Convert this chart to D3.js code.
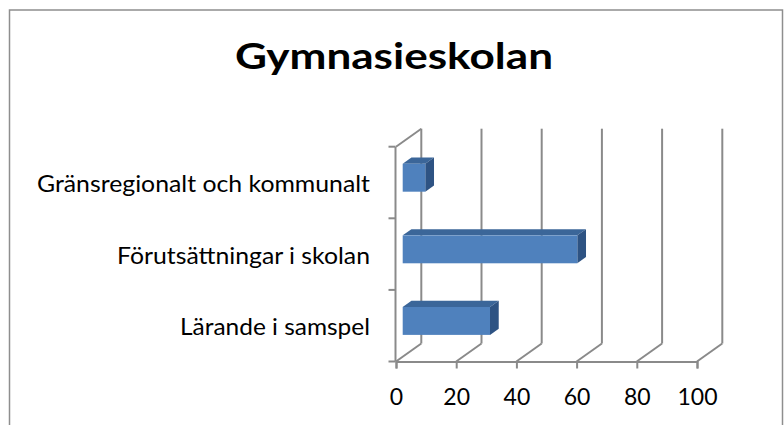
<!DOCTYPE html>
<html>
<head>
<meta charset="utf-8">
<script src="https://cdn.jsdelivr.net/npm/d3@7/dist/d3.min.js"></script>
<style>
  html, body { margin: 0; padding: 0; background: #ffffff; }
  svg { display: block; }
</style>
</head>
<body>
<div id="chart"></div>
<script>
// data
const title = 'Gymnasieskolan'
const categories = ['Gränsregionalt och kommunalt', 'Förutsättningar i skolan', 'Lärande i samspel']
const values = [7.5, 58, 29]
const xTicks = [0, 20, 40, 60, 80, 100]

const width = 784
const height = 425
const plot = { left: 396, right: 697, top: 146.7, bottom: 361.5 }
// 3d depth offset of the back wall
const depth = { dx: 25.3, dy: 18 }
const barDepth = [0.265, 0.61]
const gridColor = '#8a8a8a'
const face = { front: '#4f81bd', top: '#3b6699', side: '#2e5383' }
const font = 'Lato, "Open Sans", sans-serif'

const svg = d3.select('#chart').append('svg')
  .attr('width', width)
  .attr('height', height)

// chart frame
svg.append('rect')
  .attr('x', 9.5).attr('y', 10)
  .attr('width', 773).attr('height', 440)
  .attr('fill', 'none')
  .attr('stroke', '#8e8e8e')
  .attr('stroke-width', 1.5)

const x = d3.scaleLinear().domain([0, 100]).range([plot.left, plot.right])
const yCat = d3.scaleBand().domain(categories).range([plot.top, plot.bottom])
const yBar = d3.scaleBand().domain(categories).range([plot.top, plot.bottom])
  .paddingInner(0.61).paddingOuter(0.305)

const proj = (px, py, f) => [px + f * depth.dx, py - f * depth.dy]

// walls and floor grid
const gGrid = svg.append('g').attr('class', 'grid')
  .attr('stroke', gridColor).attr('stroke-width', 2).attr('fill', 'none')

gGrid.selectAll('.back')
  .data(xTicks)
  .join('line')
  .attr('class', 'back')
  .attr('x1', d => proj(x(d), plot.top, 1)[0])
  .attr('x2', d => proj(x(d), plot.bottom, 1)[0])
  .attr('y1', d => proj(x(d), plot.top, 1)[1])
  .attr('y2', d => proj(x(d), plot.bottom, 1)[1])

gGrid.selectAll('.floor')
  .data(xTicks)
  .join('line')
  .attr('class', 'floor')
  .attr('x1', d => x(d))
  .attr('y1', plot.bottom)
  .attr('x2', d => proj(x(d), plot.bottom, 1)[0])
  .attr('y2', d => proj(x(d), plot.bottom, 1)[1])

// left wall top edge
gGrid.append('line')
  .attr('x1', x(0)).attr('y1', plot.top)
  .attr('x2', proj(x(0), plot.top, 1)[0])
  .attr('y2', proj(x(0), plot.top, 1)[1])

// front axes
const xAxis = d3.axisBottom(x).tickValues(xTicks).tickSize(7).tickPadding(10)
const gX = svg.append('g').attr('transform', `translate(0,${plot.bottom})`).call(xAxis)
gX.select('.domain').attr('stroke', gridColor).attr('stroke-width', 2)
gX.selectAll('.tick line').attr('stroke', gridColor).attr('stroke-width', 2)
gX.selectAll('.tick text')
  .attr('font-family', font)
  .attr('font-size', 23)
  .attr('fill', '#000')
  .attr('dy', null)
  .attr('y', 43.5)

svg.append('line')
  .attr('x1', x(0) - 0.5).attr('x2', x(0) - 0.5)
  .attr('y1', plot.top).attr('y2', plot.bottom)
  .attr('stroke', gridColor).attr('stroke-width', 2)

svg.selectAll('.ytick')
  .data(d3.range(categories.length + 1))
  .join('line')
  .attr('class', 'ytick')
  .attr('x1', x(0) - 7.5).attr('x2', x(0) - 0.5)
  .attr('y1', i => plot.top + i * yCat.step())
  .attr('y2', i => plot.top + i * yCat.step())
  .attr('stroke', gridColor).attr('stroke-width', 2)

// category labels
const labelWidths = [333, 253, 190]
svg.selectAll('.cat')
  .data(categories)
  .join('text')
  .attr('class', 'cat')
  .attr('x', 370)
  .attr('y', d => yCat(d) + yCat.bandwidth() / 2 + 9.5)
  .attr('text-anchor', 'end')
  .attr('font-family', font)
  .attr('font-size', 23)
  .attr('textLength', (d, i) => labelWidths[i])
  .attr('lengthAdjust', 'spacingAndGlyphs')
  .text(d => d)

// 3d bars
const [f1, f2] = barDepth
const bars = categories.map((c, i) => ({ c, v: values[i] }))
const gBar = svg.append('g').attr('class', 'bars')

const corner = (v, yy, f) => proj(x(v), yy, f)
const poly = pts => pts.map(p => p.join(',')).join(' ')

bars.forEach(d => {
  const y0 = yBar(d.c)
  const y1 = y0 + yBar.bandwidth()
  const g = gBar.append('g')
  // top face
  g.append('polygon')
    .attr('points', poly([corner(0, y0, f1), corner(d.v, y0, f1), corner(d.v, y0, f2), corner(0, y0, f2)]))
    .attr('fill', face.top)
  // side face
  g.append('polygon')
    .attr('points', poly([corner(d.v, y0, f1), corner(d.v, y0, f2), corner(d.v, y1, f2), corner(d.v, y1, f1)]))
    .attr('fill', face.side)
  // front face
  const p0 = corner(0, y0, f1)
  const p1 = corner(d.v, y1, f1)
  g.append('rect')
    .attr('x', p0[0]).attr('y', p0[1])
    .attr('width', p1[0] - p0[0])
    .attr('height', p1[1] - p0[1])
    .attr('fill', face.front)
})

// title
svg.append('text')
  .attr('x', 394)
  .attr('y', 69.3)
  .attr('text-anchor', 'middle')
  .attr('font-family', font)
  .attr('font-weight', 'bold')
  .attr('font-size', 37)
  .attr('textLength', 318)
  .attr('lengthAdjust', 'spacingAndGlyphs')
  .text(title)
</script>
</body>
</html>
